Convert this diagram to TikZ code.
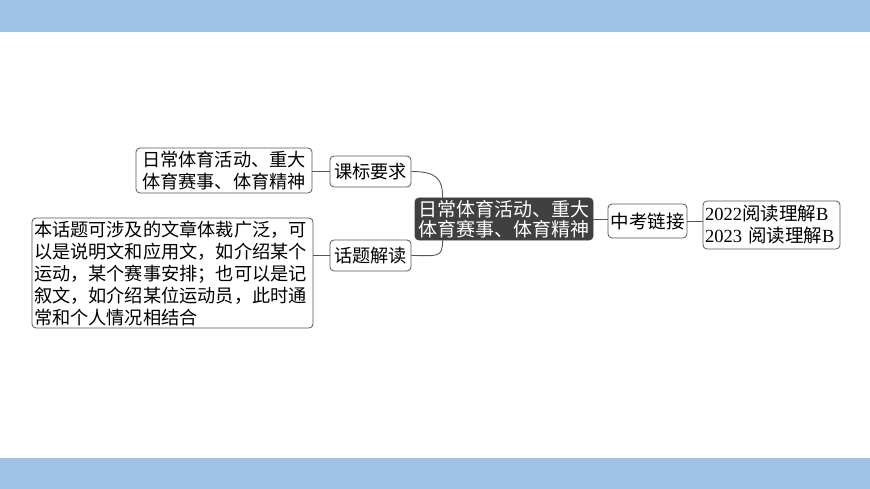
\documentclass[tikz,border=0pt]{standalone}
\usepackage{fontspec}
\setmainfont{Liberation Serif}
\newfontfamily\cjk{Noto Sans CJK SC}
\usetikzlibrary{calc}
\definecolor{bandblue}{HTML}{9EC3E6}
\definecolor{linegray}{HTML}{555555}
\definecolor{centerfill}{HTML}{404040}
\tikzset{
  mbox/.style={draw=linegray, rounded corners=4pt, fill=white, line width=0.8pt, inner sep=1pt,
    font=\cjk\fontsize{18.2}{22}\selectfont, align=center},
  conn/.style={draw=linegray, line width=0.9pt}
}
\begin{document}
\begin{tikzpicture}[x=1pt,y=-1pt]
\useasboundingbox (0,0) rectangle (870,489);
\fill[bandblue] (0,0) rectangle (870,32);
\fill[bandblue] (0,458) rectangle (870,489);

\node[mbox, minimum width=176, minimum height=45] (A) at (224,170.5) {日常体育活动、重大\\体育赛事、体育精神};
\node[mbox, minimum width=81, minimum height=31] (kb) at (370.5,171.5) {课标要求};
\node[mbox, minimum width=281, minimum height=110, align=left, text width=277] (B) at (172.5,273)
  {本话题可涉及的文章体裁广泛，可\\以是说明文和应用文，如介绍某个\\运动，某个赛事安排；也可以是记\\叙文，如介绍某位运动员，此时通\\常和个人情况相结合};
\node[mbox, minimum width=81, minimum height=31] (ht) at (370.5,255.5) {话题解读};
\node[mbox, draw=centerfill, fill=centerfill, text=white, minimum width=178, minimum height=42,
  font=\cjk\fontsize{19}{20}\selectfont] (C) at (504,219) {日常体育活动、重大\\体育赛事、体育精神};
\node[mbox, minimum width=79, minimum height=34, font=\cjk\fontsize{18.5}{22}\selectfont] (zk) at (647.5,221) {中考链接};
\node[mbox, minimum width=137, minimum height=48, align=left, text width=133, font=\fontsize{18.5}{22}\selectfont] (R) at (771.5,225)
  {2022{\cjk 阅读理解}B\\2023 {\cjk 阅读理解}B};

\coordinate (c1) at ($(C.north west)+(28,0)$);
\coordinate (c2) at ($(C.south west)+(28,0)$);
\draw[conn] (A.east |- kb.west) -- (kb.west);
\draw[conn] (B.east |- ht.west) -- (ht.west);
\draw[conn] (kb.east) .. controls +(26,0) and +(0,-18) .. (c1);
\draw[conn] (ht.east) .. controls +(26,0) and +(0,18) .. (c2);
\draw[conn] (C.east) -- (C.east -| zk.west);
\draw[conn] (zk.east) -- (zk.east -| R.west);
\end{tikzpicture}
\end{document}
